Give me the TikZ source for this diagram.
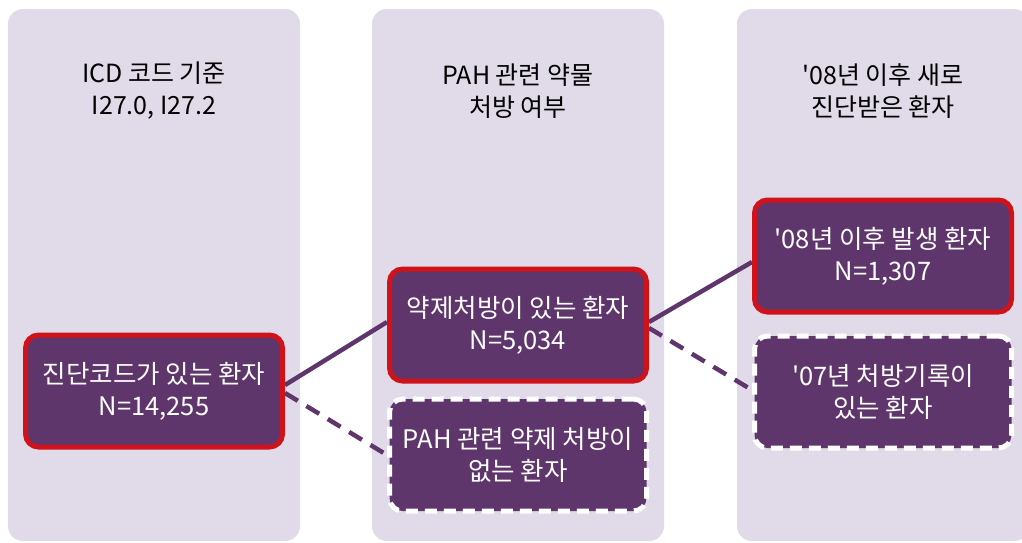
\documentclass[tikz,border=0pt]{standalone}
\usepackage{fontspec}
\setmainfont{Noto Sans CJK KR}[Ligatures=TeXOff]
\newfontfamily\boxfont{Noto Sans CJK KR}[Ligatures=TeXOff]
\definecolor{colfill}{HTML}{E1DAE8}
\definecolor{boxfill}{HTML}{5F366B}
\definecolor{boxred}{HTML}{D0121B}
\pgfdeclarelayer{bg}
\pgfdeclarelayer{conn}
\pgfsetlayers{bg,conn,main}
\tikzset{
  column/.style={fill=colfill, draw=none, rounded corners=15pt},
  headtxt/.style={align=center, font=\boxfont\fontsize{25}{32}\selectfont, text=black},
  selbox/.style={draw=boxred, line width=5pt, fill=boxfill, rounded corners=13pt,
    minimum width=257pt, minimum height=112pt, align=center, text=white,
    font=\boxfont\fontsize{25.5}{32}\selectfont, inner sep=0pt},
  exbox/.style={selbox, draw=white, dash pattern=on 12pt off 7pt},
  conline/.style={draw=boxfill, line width=4.5pt},
  condash/.style={conline, dash pattern=on 15pt off 10pt},
}
\begin{document}
\begin{tikzpicture}[x=1pt,y=-1pt]
\useasboundingbox (0,0) rectangle (1022,542);
\clip (0,0) rectangle (1022,542);
\begin{pgfonlayer}{bg}
\path[column] (8,9) rectangle (300,541);
\path[column] (372,9) rectangle (664,541);
\path[column] (737,9) rectangle (1029,541);
\end{pgfonlayer}
\node[headtxt] (h1) at (154,91) {ICD 코드 기준\\I27.0, I27.2};
\node[headtxt] (h2) at (518,91) {PAH 관련 약물\\처방 여부};
\node[headtxt] (h3) at (883,91) {'08년 이후 새로\\진단받은 환자};
\node[selbox] (b1) at (154,391) {진단코드가 있는 환자\\N=14,255};
\node[selbox] (b2) at (518,325) {약제처방이 있는 환자\\N=5,034};
\node[exbox] (b3) at (518,455) {PAH 관련 약제 처방이\\없는 환자};
\node[selbox] (b4) at (883,256) {'08년 이후 발생 환자\\N=1,307};
\node[exbox] (b5) at (883,392) {'07년 처방기록이\\있는 환자};
\begin{pgfonlayer}{conn}
\draw[conline] ([yshift=6pt]b1.east) -- ([yshift=3pt]b2.west);
\draw[condash] ([yshift=-2pt]b1.east) -- (b3.west);
\draw[conline] ([yshift=3pt]b2.east) -- ([yshift=-6pt]b4.west);
\draw[condash] ([yshift=-3pt]b2.east) -- ([yshift=2pt]b5.west);
\end{pgfonlayer}
\end{tikzpicture}
\end{document}
